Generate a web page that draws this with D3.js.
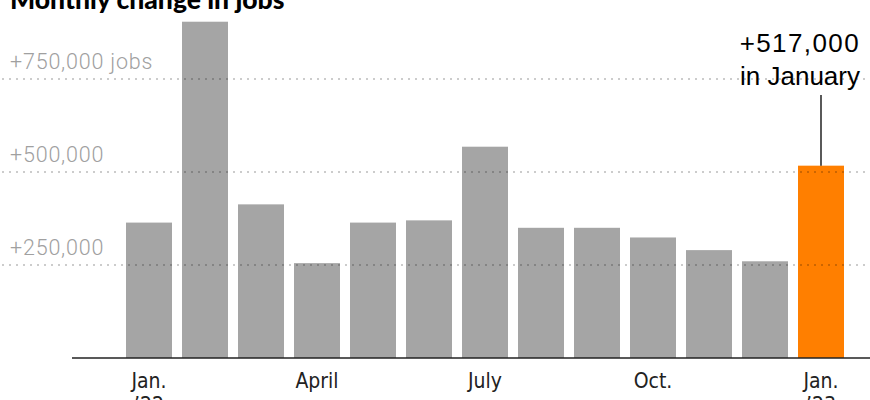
<!DOCTYPE html>
<html>
<head>
<meta charset="utf-8">
<script src="https://cdn.jsdelivr.net/npm/d3@7"></script>
<style>
  body { margin: 0; background: #fff; }
  svg { display: block; }
</style>
</head>
<body>
<div id="chart"></div>
<script>
// monthly change in jobs, Jan. 2022 through Jan. 2023
var months = ["2022-01", "2022-02", "2022-03", "2022-04", "2022-05", "2022-06", "2022-07",
  "2022-08", "2022-09", "2022-10", "2022-11", "2022-12", "2023-01"];
var jobs = [364000, 904000, 413000, 255000, 364000, 370000, 568000,
  350000, 350000, 324000, 290000, 260000, 517000];

var gridValues = [250000, 500000, 750000];
var gridLabels = ["+250,000", "+500,000", "+750,000 jobs"];

var tickMonths = ["2022-01", "2022-04", "2022-07", "2022-10", "2023-01"];
var tickLabels = [["Jan.", "\u201922"], ["April"], ["July"], ["Oct."], ["Jan.", "\u201923"]];

var width = 870, height = 400;
var margin = { top: 79, bottom: 42 };
var baseY = height - margin.bottom;

var svg = d3.select("#chart")
  .append("svg")
  .attr("width", width)
  .attr("height", height);

var x = d3.scaleBand()
  .domain(months)
  .range([121, 849])
  .paddingInner(10 / 56)
  .paddingOuter(5 / 56);

var y = d3.scaleLinear()
  .domain([0, 750000])
  .range([baseY, margin.top]);

// title, partly cut off at the top like the original
svg.append("text")
  .attr("x", 10)
  .attr("y", 9)
  .attr("font-family", "Lato, 'Liberation Sans', sans-serif")
  .attr("font-weight", 900)
  .attr("font-size", 26.5)
  .attr("fill", "#000")
  .text("Monthly change in jobs");

// bars
svg.append("g")
  .selectAll("rect")
  .data(months)
  .enter()
  .append("rect")
  .attr("x", function (d) { return x(d); })
  .attr("width", x.bandwidth())
  .attr("y", function (d, i) { return y(jobs[i]); })
  .attr("height", function (d, i) { return baseY - y(jobs[i]); })
  .attr("fill", function (d, i) { return i === months.length - 1 ? "#ff7f00" : "#a5a5a5"; });

// dotted gridlines drawn over the bars
svg.append("g")
  .selectAll("line")
  .data(gridValues)
  .enter()
  .append("line")
  .attr("x1", 2)
  .attr("x2", width)
  .attr("y1", function (d) { return y(d); })
  .attr("y2", function (d) { return y(d); })
  .attr("stroke", "rgba(0,0,0,0.2)")
  .attr("stroke-width", 2.2)
  .attr("stroke-dasharray", "2,5");

svg.append("g")
  .selectAll("text")
  .data(gridValues)
  .enter()
  .append("text")
  .attr("x", 10)
  .attr("y", function (d) { return y(d) - 10; })
  .attr("font-family", "Roboto, 'Open Sans', sans-serif")
  .attr("font-weight", 300)
  .attr("font-size", 21.5)
  .attr("letter-spacing", 0.8)
  .attr("fill", "#a0a0a0")
  .text(function (d, i) { return gridLabels[i]; });

// x axis
var xAxis = svg.append("g")
  .attr("transform", "translate(0," + baseY + ")")
  .call(d3.axisBottom(x)
    .tickValues(tickMonths)
    .tickSize(0)
    .tickPadding(0)
    .tickFormat(""));

xAxis.select(".domain").remove();

xAxis.selectAll(".tick text")
  .attr("y", 0)
  .attr("dy", null)
  .attr("font-family", "'Liberation Sans Narrow', 'DejaVu Sans Condensed', sans-serif")
  .attr("font-size", 21)
  .attr("fill", "#222")
  .each(function (d, i) {
    var t = d3.select(this);
    tickLabels[i].forEach(function (line, j) {
      t.append("tspan")
        .attr("x", 0)
        .attr("y", 30 + j * 24)
        .text(line);
    });
  });

svg.append("line")
  .attr("x1", 72)
  .attr("x2", width)
  .attr("y1", baseY)
  .attr("y2", baseY)
  .attr("stroke", "#222")
  .attr("stroke-width", 1.5);

// annotation for the latest month
var last = months[months.length - 1];
var lastX = x(last) + x.bandwidth() / 2;

svg.append("line")
  .attr("x1", lastX)
  .attr("x2", lastX)
  .attr("y1", 95)
  .attr("y2", y(jobs[jobs.length - 1]))
  .attr("stroke", "#000")
  .attr("stroke-width", 1.3);

var note = svg.append("text")
  .attr("text-anchor", "end")
  .attr("font-family", "'Liberation Sans', Roboto, sans-serif")
  .attr("font-size", 26)
  .attr("fill", "#000");

note.append("tspan").attr("x", 860).attr("y", 52).attr("letter-spacing", 1.4).text("+517,000");
note.append("tspan").attr("x", 860).attr("y", 85).text("in January");
</script>
</body>
</html>
